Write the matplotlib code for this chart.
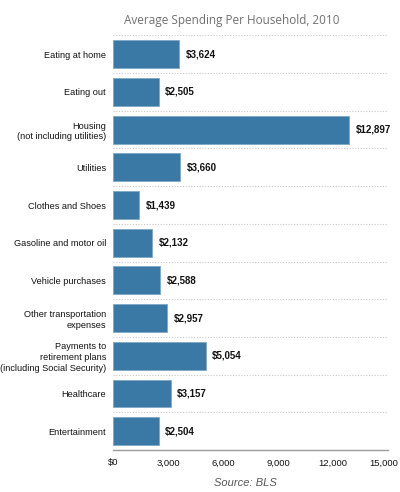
import matplotlib.pyplot as plt
import matplotlib.transforms as mtransforms

# Data
categories = [
    "Eating at home",
    "Eating out",
    "Housing\n(not including utilities)",
    "Utilities",
    "Clothes and Shoes",
    "Gasoline and motor oil",
    "Vehicle purchases",
    "Other transportation\nexpenses",
    "Payments to\nretirement plans\n(including Social Security)",
    "Healthcare",
    "Entertainment",
]
spending = [3624, 2505, 12897, 3660, 1439, 2132, 2588, 2957, 5054, 3157, 2504]
xticks = [0, 3000, 6000, 9000, 12000, 15000]
xtick_labels = ["$0", "3,000", "6,000", "9,000", "12,000", "15,000"]

label_font = ["Liberation Sans", "DejaVu Sans"]

fig = plt.figure(figsize=(4, 4.92), dpi=100)
ax = fig.add_axes([0.2825, 0.0854, 0.6875, 0.8426])

ypos = list(range(len(categories)))
ax.barh(ypos, spending, height=0.74, color="#3a78a5", edgecolor="#7fa9c7", linewidth=0.6)

# value labels
for y, v in zip(ypos, spending):
    ax.text(v + 350, y, "${:,}".format(v), va="center", ha="left",
            fontsize=7, fontweight="bold", family=label_font, color="#111111")

ax.set_xlim(0, 15000)
ax.set_ylim(len(categories) - 0.5, -0.5)

ax.set_yticks(ypos)
ax.set_yticklabels(categories, family=label_font, fontsize=6.6, color="#111111",
                   linespacing=1.25)
ax.tick_params(axis="y", length=0, pad=5)

ax.set_xticks(xticks)
ax.set_xticklabels(xtick_labels, family=label_font, fontsize=6.8, color="#111111")
ax.tick_params(axis="x", length=0, pad=6)
# nudge the last tick label so it stays inside the figure
last = ax.get_xticklabels()[-1]
last.set_transform(last.get_transform() + mtransforms.ScaledTranslation(-3 / 72, 0, fig.dpi_scale_trans))

# dotted separators between categories
for b in [y - 0.5 for y in ypos]:
    ax.axhline(b, color="#c8c8c8", linestyle=(0, (1, 1.5)), linewidth=0.8, zorder=0)

for s in ["top", "right", "left"]:
    ax.spines[s].set_visible(False)
ax.spines["bottom"].set_color("#999999")
ax.spines["bottom"].set_linewidth(1.0)

fig.text(0.58, 0.958, "Average Spending Per Household, 2010", ha="center", va="center",
         fontsize=8.5, family=["Open Sans", "DejaVu Sans"], color="#707070")
fig.text(0.613, 0.018, "Source: BLS", ha="center", va="center", fontsize=8,
         style="italic", family=["Liberation Sans", "DejaVu Sans"], color="#555555")

plt.savefig("out.png", dpi=100)
